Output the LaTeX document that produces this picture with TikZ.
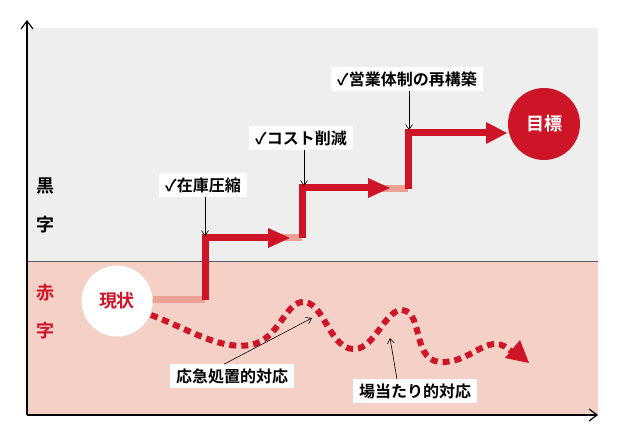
\documentclass[tikz,border=0pt]{standalone}
\usepackage{fontspec}
\newfontfamily\jp{Noto Sans CJK JP Bold}
\usetikzlibrary{arrows.meta}
\definecolor{rd}{HTML}{CE1528}
\definecolor{lp}{HTML}{EBA193}
\definecolor{pk}{HTML}{F4D0C7}
\definecolor{gy}{HTML}{EEEEEE}
\tikzset{
  lbl/.style={fill=white,inner xsep=6pt,inner ysep=4pt,font=\jp\fontsize{16}{16}\selectfont},
  stepline/.style={draw=rd,line width=7pt},
  lightline/.style={draw=lp,line width=7pt},
  ptr/.style={-{Straight Barb[length=5pt,width=7pt]},line width=0.6pt},
  side/.style={font=\jp\fontsize{18}{18}\selectfont}
}
\begin{document}
\begin{tikzpicture}[x=1pt,y=-1pt]
\useasboundingbox (0,0) rectangle (625,441);
\fill[gy] (27,28) rectangle (598,262);
\fill[pk] (27,262) rectangle (598,415);
\draw[gray!70!black,line width=1pt] (27,262) -- (598,262);
\draw[line width=1.2pt,-{Straight Barb[length=8pt,width=12pt]}] (27,415) -- (27,20);
\draw[line width=1.2pt,-{Straight Barb[length=8pt,width=12pt]}] (27,415) -- (598,415);
\node[side] (k1) at (46,186) {黒};
\node[side] (k2) at (46,225) {字};
\node[side,text=rd] (a1) at (46,293) {赤};
\node[side,text=rd] (a2) at (46,331) {字};
\node[circle,fill=white,minimum size=71pt,inner sep=0pt,font=\jp\fontsize{18}{18}\selectfont,text=rd] (now) at (117,301) {現状};
\node[circle,fill=rd,minimum size=72pt,inner sep=0pt,font=\jp\fontsize{18}{18}\selectfont,text=white] (goal) at (544,124) {目標};
% step path
\coordinate (s0) at (205,300);
\coordinate (s1) at (302,238);
\coordinate (s2) at (408,189);
\draw[lightline] (now.east |- s0) -- (s0);
\draw[lightline] (280,238) -- (s1);
\draw[lightline] (380,189) -- (s2);
\draw[stepline] (s0) -- (205,238) -- (270,238);
\fill[rd] (268,228) -- (290,238) -- (268,248) -- cycle;
\draw[stepline] (s1) -- (302,188) -- (370,188);
\fill[rd] (368,178) -- (390,188) -- (368,198) -- cycle;
\draw[stepline] (s2) -- (408,133) -- (488,133);
\fill[rd] (486,122) -- (507,133) -- (486,144) -- cycle;
% labels
\node[lbl] (l1) at (203,185) {✓在庫圧縮};
\node[lbl] (l2) at (301,138) {✓コスト削減};
\node[lbl] (l3) at (407,79) {✓営業体制の再構築};
\draw[ptr] (l1.south -| 205,0) -- (205,236);
\draw[ptr] (l2.south -| 304,0) -- (304,186);
\draw[ptr] (l3.south -| 409,0) -- (409,130);
% wavy dotted path
\draw[rd,line width=6pt,dash pattern=on 7pt off 5pt]
  (151,315) .. controls (190,330) and (220,350) .. (250,345)
  .. controls (280,340) and (285,300) .. (305,302)
  .. controls (325,305) and (330,350) .. (355,349)
  .. controls (375,348) and (385,310) .. (402,310)
  .. controls (425,312) and (410,365) .. (445,362)
  .. controls (475,360) and (490,330) .. (512,352);
\fill[rd] (505,358) -- (529,363) -- (520,340) -- cycle;
\node[lbl] (l4) at (232,376) {応急処置的対応};
\node[lbl] (l5) at (415,391) {場当たり的対応};
\draw[ptr] (l4.north -| 224,0) -- (312,318);
\draw[ptr] (l5.north -| 397,0) -- (390,338);
\end{tikzpicture}
\end{document}
